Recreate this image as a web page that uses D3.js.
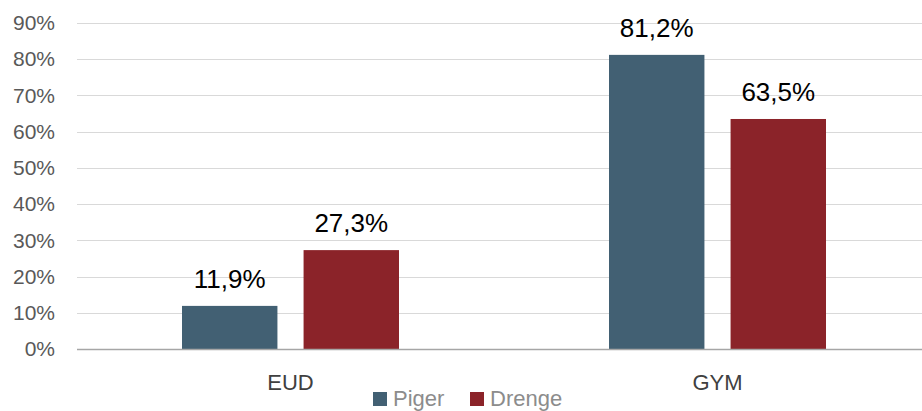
<!DOCTYPE html>
<html lang="da">
<head>
    <meta charset="UTF-8">
    <title>Piger og drenge - EUD og GYM</title>
    <script src="https://d3js.org/d3.v7.min.js"></script>
    <style>
        body { margin: 0; background: #fff; }
        svg { display: block; font-family: "Liberation Sans", Arial, sans-serif; }
    </style>
</head>
<body>
    <svg width="922" height="411"></svg>

    <script>
        // Data
        const categories = ["EUD", "GYM"];
        const seriesNames = ["Piger", "Drenge"];
        const piger = [11.9, 81.2];
        const drenge = [27.3, 63.5];
        const yTicks = [0, 10, 20, 30, 40, 50, 60, 70, 80, 90];

        const colors = { Piger: "#426073", Drenge: "#8b2329" };

        const svg = d3.select("svg");

        // Plot area
        const plotLeft = 77, plotRight = 931, plotTop = 23, plotBottom = 349;

        const x = d3.scaleBand()
                    .domain(categories)
                    .range([plotLeft, plotRight]);

        const x1 = d3.scaleBand()
                     .domain(seriesNames)
                     .range([0, 217])
                     .paddingInner(0.215);

        const y = d3.scaleLinear()
                    .domain([0, 90])
                    .range([plotBottom, plotTop]);

        // Gridlines
        svg.append("g")
           .selectAll("line")
           .data(yTicks.filter(d => d > 0))
           .join("line")
           .attr("x1", plotLeft)
           .attr("x2", 922)
           .attr("y1", d => Math.round(y(d)) + 0.5)
           .attr("y2", d => Math.round(y(d)) + 0.5)
           .attr("stroke", "#d9d9d9")
           .attr("stroke-width", 1);

        // Y axis labels
        const yAxis = svg.append("g")
           .attr("transform", `translate(${plotLeft},0)`)
           .call(d3.axisLeft(y).tickValues(yTicks).tickSize(0).tickPadding(22).tickFormat(d => d + "%"));
        yAxis.select(".domain").remove();
        yAxis.selectAll("text")
             .attr("font-size", "21px")
             .attr("font-family", "Liberation Sans, Arial, sans-serif")
             .attr("fill", "#595959");

        // Bars
        const rows = categories.map((c, i) => ({ cat: c, values: [
            { name: "Piger", value: piger[i] },
            { name: "Drenge", value: drenge[i] }
        ]}));

        const groups = svg.append("g")
           .selectAll("g")
           .data(rows)
           .join("g")
           .attr("transform", d => `translate(${x(d.cat) + (x.bandwidth() - 217) / 2},0)`);

        groups.selectAll("rect")
              .data(d => d.values)
              .join("rect")
              .attr("x", d => x1(d.name))
              .attr("y", d => y(d.value))
              .attr("width", x1.bandwidth())
              .attr("height", d => plotBottom - y(d.value))
              .attr("fill", d => colors[d.name]);

        groups.selectAll("text")
              .data(d => d.values)
              .join("text")
              .attr("x", d => x1(d.name) + x1.bandwidth() / 2)
              .attr("y", d => y(d.value) - 18)
              .attr("text-anchor", "middle")
              .attr("font-size", "26px")
              .attr("fill", "#000")
              .text(d => d.value.toFixed(1).replace(".", ",") + "%");

        // Baseline
        svg.append("line")
           .attr("x1", plotLeft)
           .attr("x2", 922)
           .attr("y1", plotBottom + 0.5)
           .attr("y2", plotBottom + 0.5)
           .attr("stroke", "#a6a6a6")
           .attr("stroke-width", 1.5);

        // Category labels
        svg.append("g")
           .selectAll("text")
           .data(categories)
           .join("text")
           .attr("x", d => x(d) + x.bandwidth() / 2)
           .attr("y", 390)
           .attr("text-anchor", "middle")
           .attr("font-size", "22px")
           .attr("fill", "#404040")
           .text(d => d);

        // Legend
        const legendX = [373, 470];
        const legend = svg.append("g")
           .selectAll("g")
           .data(seriesNames)
           .join("g")
           .attr("transform", (d, i) => `translate(${legendX[i]},0)`);

        legend.append("rect")
              .attr("y", 392)
              .attr("width", 14)
              .attr("height", 14)
              .attr("fill", d => colors[d]);

        legend.append("text")
              .attr("x", 20)
              .attr("y", 406)
              .attr("font-size", "22px")
              .attr("fill", "#8c8c8c")
              .text(d => d);
    </script>
</body>
</html>
